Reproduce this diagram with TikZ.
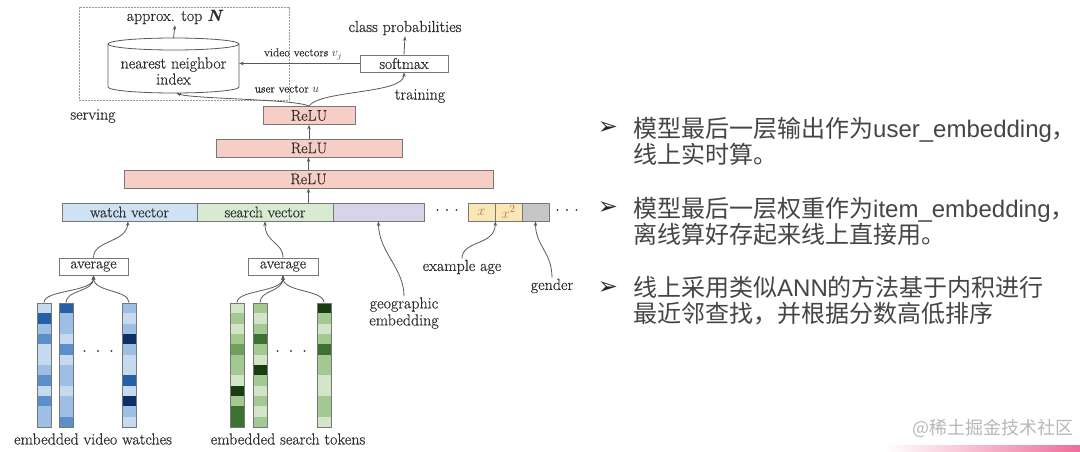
\documentclass[tikz,border=0pt]{standalone}
\usepackage{fontspec}
\setmainfont{Latin Modern Roman}[FakeBold=0.5]
\newfontfamily\cjk{Noto Sans CJK SC}
\newfontfamily\arialf{Liberation Sans}
\newfontfamily\dejavu{DejaVu Sans}
\usetikzlibrary{arrows.meta,calc}
\definecolor{txt}{HTML}{2E2E2E}
\definecolor{rtxt}{HTML}{454545}
\definecolor{boxc}{HTML}{777777}
\definecolor{linec}{HTML}{5A5A5A}
\definecolor{reluf}{HTML}{F7CEC6}
\definecolor{watchf}{HTML}{CFE2F3}
\definecolor{searchf}{HTML}{D9EAD3}
\definecolor{geof}{HTML}{D9D3EA}
\definecolor{agef}{HTML}{FBE6B8}
\definecolor{genf}{HTML}{C6C6C6}
\definecolor{pinkc}{HTML}{EE6D9A}
\definecolor{b1}{HTML}{C6DAEF}
\definecolor{b2}{HTML}{9DBFE3}
\definecolor{b3}{HTML}{5A8FCC}
\definecolor{b4}{HTML}{2460A9}
\definecolor{b5}{HTML}{0E2F66}
\definecolor{g1}{HTML}{D2E5C7}
\definecolor{g2}{HTML}{A3C892}
\definecolor{g3}{HTML}{6FA05B}
\definecolor{g4}{HTML}{3D7131}
\definecolor{g5}{HTML}{173D10}
\newcommand\embcol[4]{%
  \foreach \c [count=\i from 0] in {#3} {%
    \fill[#2\c] (#1,{303+\i*10.333}) rectangle ({#1+14},{303+(\i+1)*10.333});}
  \node[colbox] (#4) at ({#1+7},365) {};}
\begin{document}
\begin{tikzpicture}[x=1pt,y=-1pt,
  lbl/.style={text=txt, inner sep=1pt, font=\fontsize{16}{17}\selectfont},
  smalllbl/.style={text=txt, inner sep=1pt, font=\fontsize{11.5}{12}\selectfont},
  box/.style={draw=boxc, line width=0.8pt, inner sep=0pt, text=txt},
  relu/.style={box, fill=reluf, minimum height=18pt, font=\fontsize{15.5}{15.5}\selectfont},
  seg/.style={box, minimum height=18pt, font=\fontsize{15.5}{15.5}\selectfont},
  avgbox/.style={box, fill=white, minimum width=69pt, minimum height=17pt, font=\fontsize{15.5}{15.5}\selectfont},
  colbox/.style={draw=boxc, line width=0.8pt, minimum width=14pt, minimum height=124pt, inner sep=0pt},
  conn/.style={draw=linec, line width=0.8pt, -{Stealth[length=4.5pt,width=3.5pt]}},
  dotsn/.style={text=txt, inner sep=0pt, font=\fontsize{22}{22}\selectfont},
  item/.style={text=rtxt, inner sep=0pt, anchor=west, align=left, font=\arialf\fontsize{24}{26}\selectfont},
  bul/.style={text=black!85, inner sep=0pt, font=\dejavu\fontsize{24}{24}\selectfont},
]
\fill[white] (0,0) rectangle (1080,452);
\useasboundingbox (0,0) rectangle (1080,452);

% serving box
\node[draw=gray!80, line width=0.8pt, dash pattern=on 1.6pt off 1.4pt, minimum width=210pt, minimum height=93pt, inner sep=0pt] (servebox) at (184,53.5) {};

% cylinder
\node[minimum width=131pt, minimum height=55pt, inner sep=0pt] (nn) at (173.5,65.5) {};
\filldraw[draw=linec, fill=white, line width=0.8pt] (108,44) -- (108,87)
  arc[start angle=180, end angle=360, x radius=65.5pt, y radius=6pt] -- (239,44)
  arc[start angle=0, end angle=180, x radius=65.5pt, y radius=6pt] -- cycle;
\draw[linec, line width=0.8pt] (108,44) arc[start angle=180, end angle=360, x radius=65.5pt, y radius=6pt];
\node[lbl, align=center, font=\fontsize{16}{16}\selectfont] (nnlabel) at (173.5,71) {nearest neighbor\\index};

\node[lbl] (approx) at (175,17) {approx. top \textbf{\textit{N}}};
\node[box, fill=white, minimum width=88pt, minimum height=17pt, font=\fontsize{15.5}{15.5}\selectfont] (soft) at (404,63.5) {softmax};
\node[lbl] (classp) at (405,28) {class probabilities};
\node[smalllbl] (vv) at (303,54) {video vectors $v_j$};
\node[smalllbl] (uv) at (287,89) {user vector $u$};
\node[lbl] (training) at (420,96) {training};
\node[lbl] (serving) at (93,116) {serving};

% ReLU stack
\node[relu, minimum width=92pt] (relu1) at (309,115.5) {ReLU};
\node[relu, minimum width=186pt] (relu2) at (309,148) {ReLU};
\node[relu, minimum width=369pt] (relu3) at (308.5,179) {ReLU};

% feature bar
\node[seg, fill=watchf, minimum width=135pt] (watch) at (129.5,212) {watch vector};
\node[seg, fill=searchf, minimum width=136pt] (search) at (265,212) {search vector};
\node[seg, fill=geof, minimum width=91pt] (geo) at (378.5,212) {};
\node[dotsn] (dots1) at (447,210) {.\hspace{4pt}.\hspace{4pt}.};
\node[seg, fill=agef, minimum width=27pt, text=brown!60!gray] (xa) at (481.5,212) {$x$};
\node[seg, fill=agef, minimum width=27pt, text=brown!60!gray] (xb) at (508.5,212) {$x^2$};
\node[seg, fill=genf, minimum width=27pt] (gen) at (535.5,212) {};
\node[dotsn] (dots2) at (567,210) {.\hspace{4pt}.\hspace{4pt}.};

% averages
\node[avgbox] (avg1) at (93.5,266.5) {average};
\node[avgbox, minimum width=70pt] (avg2) at (283,266.5) {average};

% labels under bar
\node[lbl, align=center, font=\fontsize{16}{17}\selectfont] (geolbl) at (404,313) {geographic\\embedding};
\node[lbl] (agelbl) at (462,267) {example age};
\node[lbl] (genlbl) at (552,286) {gender};

% embedding columns
\embcol{37}{b}{1,4,2,3,1,1,2,3,1,3,2,2}{v1}
\embcol{59}{b}{4,2,2,1,3,1,2,2,1,2,2,3}{v2}
\embcol{122}{b}{2,1,2,5,2,1,1,4,1,5,2,1}{v3}
\embcol{230}{g}{1,2,1,2,3,2,2,1,5,2,4,4}{s1}
\embcol{253}{g}{2,1,2,4,2,1,5,2,1,2,1,2}{s2}
\embcol{317}{g}{5,2,1,2,4,2,2,1,1,2,2,1}{s3}
\node[dotsn] (vdots) at (98,351) {.\hspace{8pt}.\hspace{8pt}.};
\node[dotsn] (sdots) at (291,351) {.\hspace{8pt}.\hspace{8pt}.};
\node[lbl] (vlbl) at (93,439) {embedded video watches};
\node[lbl] (slbl) at (288,439) {embedded search tokens};

% connectors
\draw[conn] (nn.north) -- (approx.south);
\draw[conn] (soft.north) -- (classp.south);
\draw[conn] (soft.west) -- (soft.west -| nn.east);
\draw[conn] (relu1.north) .. controls (296,99) and (192,99) .. ([xshift=3pt]nn.south);
\draw[conn] (relu1.north) .. controls (320,90) and (404,94) .. (soft.south);
\draw[conn] (relu2.north) -- (relu1.south);
\draw[conn] (relu3.north) -- (relu3.north |- relu2.south);
\draw[conn] (search.north -| relu3.south) -- (relu3.south);
\draw[conn] (avg1.north) .. controls (93.5,240) and (126,243) .. ([xshift=-1.5pt]watch.south);
\draw[conn] (avg2.north) .. controls (283,242) and (265,243) .. (search.south);
\draw[conn] (geolbl.north) .. controls (404,268) and (378.5,252) .. (geo.south);
\draw[conn] (agelbl.north) .. controls (462,240) and (495,246) .. (xa.south east);
\draw[conn] (genlbl.north) .. controls (552,252) and (535.5,246) .. (gen.south);
\foreach \cl/\av in {v1/avg1, v2/avg1, v3/avg1, s1/avg2, s2/avg2, s3/avg2}{
  \draw[conn] (\cl.north) .. controls ($(\cl.north)+(0,-13)$) and ($(\av.south)+(0,17)$) .. (\av.south);
}

% right text
\node[bul] (bu1) at (608,128) {➢};
\node[item] (t1) at (633,141) {{\cjk 模型最后一层输出作为}user\_embedding{\cjk ，}\\{\cjk 线上实时算。}};
\node[bul] (bu2) at (608,208) {➢};
\node[item] (t2) at (633,221) {{\cjk 模型最后一层权重作为}item\_embedding{\cjk ，}\\{\cjk 离线算好存起来线上直接用。}};
\node[bul] (bu3) at (608,288) {➢};
\node[item] (t3) at (633,300.5) {{\cjk 线上采用类似}ANN{\cjk 的方法基于内积进行}\\{\cjk 最近邻查找，并根据分数高低排序}};

% watermark
\shade[left color=white, right color=pinkc] (885,445) rectangle (1080,452);
\node[text=black!28, inner sep=0pt, font=\cjk\fontsize{18}{18}\selectfont] (wm) at (993,428) {@稀土掘金技术社区};
\end{tikzpicture}
\end{document}
